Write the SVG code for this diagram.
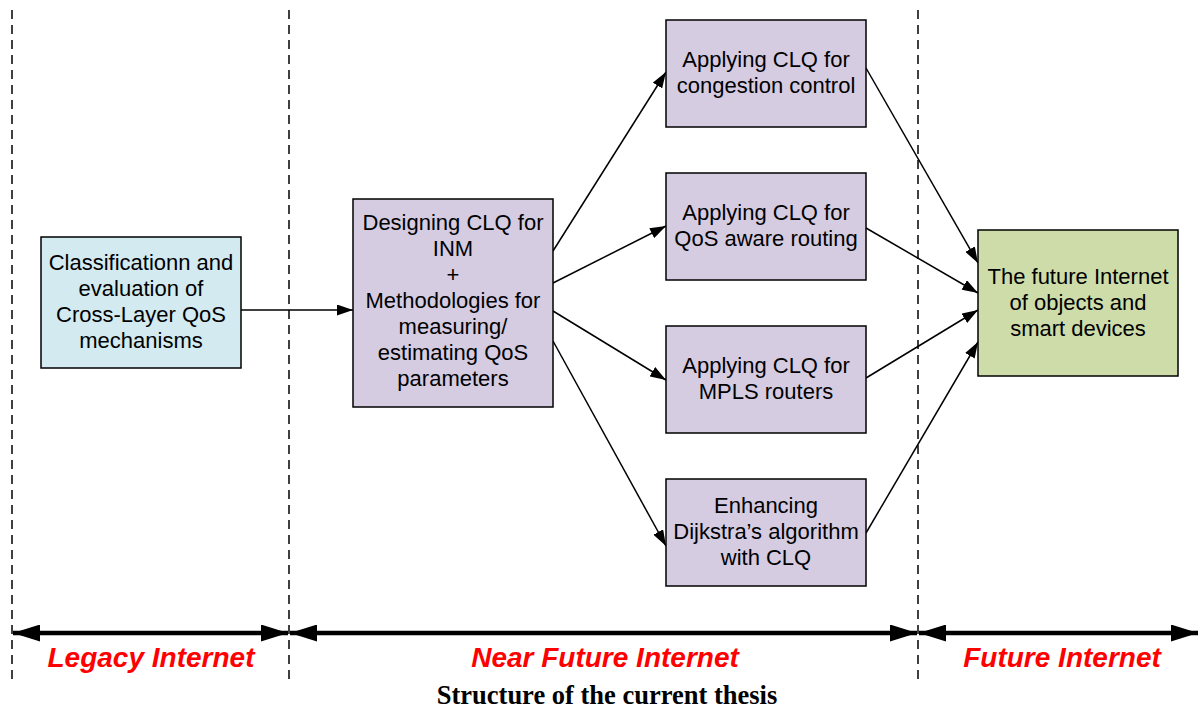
<svg xmlns="http://www.w3.org/2000/svg" width="1201" height="711" viewBox="0 0 1201 711">
<style>
.box{stroke:#000;stroke-width:1.5}
.blue{fill:#d3eaf0}
.purple{fill:#d5cce2}
.green{fill:#cedca9}
.t{font-family:"Liberation Sans",Arial,sans-serif;font-size:22px;fill:#000;text-anchor:middle}
.era{font-family:"Liberation Sans",Arial,sans-serif;font-size:28px;font-weight:bold;font-style:italic;fill:#ff0000;text-anchor:middle}
.cap{font-family:"Liberation Serif","Times New Roman",serif;font-size:26.5px;font-weight:bold;fill:#000;text-anchor:middle}
.dash{stroke:#000;stroke-width:1.5;stroke-dasharray:9,6;fill:none}
.con{stroke:#000;stroke-width:1.5;fill:none;marker-end:url(#a)}
.span{stroke:#000;stroke-width:4.5;fill:none;marker-start:url(#bs);marker-end:url(#be)}
</style>
<defs>
<marker id="a" viewBox="0 0 16 11" refX="16" refY="5.5" markerWidth="16" markerHeight="11" markerUnits="userSpaceOnUse" orient="auto"><path d="M0,0 L16,5.5 L0,11 Z" fill="#000"/></marker>
<marker id="be" viewBox="0 0 27 17" refX="27" refY="8.5" markerWidth="27" markerHeight="17" markerUnits="userSpaceOnUse" orient="auto"><path d="M0,0 L27,8.5 L0,17 Z" fill="#000"/></marker>
<marker id="bs" viewBox="0 0 27 17" refX="0" refY="8.5" markerWidth="27" markerHeight="17" markerUnits="userSpaceOnUse" orient="auto"><path d="M27,0 L0,8.5 L27,17 Z" fill="#000"/></marker>
</defs>
<g id="dividers">
<line class="dash" x1="12" y1="10" x2="12" y2="680"/>
<line class="dash" x1="289" y1="10" x2="289" y2="680"/>
<line class="dash" x1="918" y1="10" x2="918" y2="680"/>
</g>
<g id="connectors">
<line class="con" x1="241" y1="310" x2="353" y2="310"/>
<line class="con" x1="553" y1="251" x2="666" y2="72"/>
<line class="con" x1="553" y1="283" x2="666" y2="226"/>
<line class="con" x1="553" y1="311" x2="666" y2="380"/>
<line class="con" x1="553" y1="341" x2="666" y2="546"/>
<line class="con" x1="866" y1="68" x2="978" y2="263"/>
<line class="con" x1="866" y1="228" x2="978" y2="293"/>
<line class="con" x1="866" y1="378" x2="978" y2="310"/>
<line class="con" x1="866" y1="533" x2="978" y2="342"/>
</g>
<g id="spans">
<line class="span" x1="13" y1="633" x2="288" y2="633"/>
<line class="span" x1="290" y1="633" x2="917" y2="633"/>
<line class="span" x1="919" y1="633" x2="1198" y2="633"/>
</g>
<g id="n1">
<rect class="box blue" x="41" y="237" width="200" height="131"/>
<text class="t" x="141" y="270">Classificationn and</text>
<text class="t" x="141" y="296">evaluation of</text>
<text class="t" x="141" y="322">Cross-Layer QoS</text>
<text class="t" x="141" y="348">mechanisms</text>
</g>
<g id="n2">
<rect class="box purple" x="353" y="199" width="200" height="208"/>
<text class="t" x="453" y="230">Designing CLQ for</text>
<text class="t" x="453" y="256">INM</text>
<text class="t" x="453" y="282">+</text>
<text class="t" x="453" y="308">Methodologies for</text>
<text class="t" x="453" y="334">measuring/</text>
<text class="t" x="453" y="360">estimating QoS</text>
<text class="t" x="453" y="386">parameters</text>
</g>
<g id="n3">
<rect class="box purple" x="666" y="20" width="200" height="107"/>
<text class="t" x="766" y="67">Applying CLQ for</text>
<text class="t" x="766" y="93">congestion control</text>
</g>
<g id="n4">
<rect class="box purple" x="666" y="173" width="200" height="107"/>
<text class="t" x="766" y="220">Applying CLQ for</text>
<text class="t" x="766" y="246">QoS aware routing</text>
</g>
<g id="n5">
<rect class="box purple" x="666" y="326" width="200" height="107"/>
<text class="t" x="766" y="373">Applying CLQ for</text>
<text class="t" x="766" y="399">MPLS routers</text>
</g>
<g id="n6">
<rect class="box purple" x="666" y="479" width="200" height="107"/>
<text class="t" x="766" y="513">Enhancing</text>
<text class="t" x="766" y="539">Dijkstra’s algorithm</text>
<text class="t" x="766" y="565">with CLQ</text>
</g>
<g id="n7">
<rect class="box green" x="978" y="230" width="200" height="146"/>
<text class="t" x="1078" y="284">The future Internet</text>
<text class="t" x="1078" y="310">of objects and</text>
<text class="t" x="1078" y="336">smart devices</text>
</g>
<g id="labels">
<text class="era" x="151" y="667">Legacy Internet</text>
<text class="era" x="605" y="667">Near Future Internet</text>
<text class="era" x="1062" y="667">Future Internet</text>
<text class="cap" x="607" y="704">Structure of the current thesis</text>
</g>
</svg>
